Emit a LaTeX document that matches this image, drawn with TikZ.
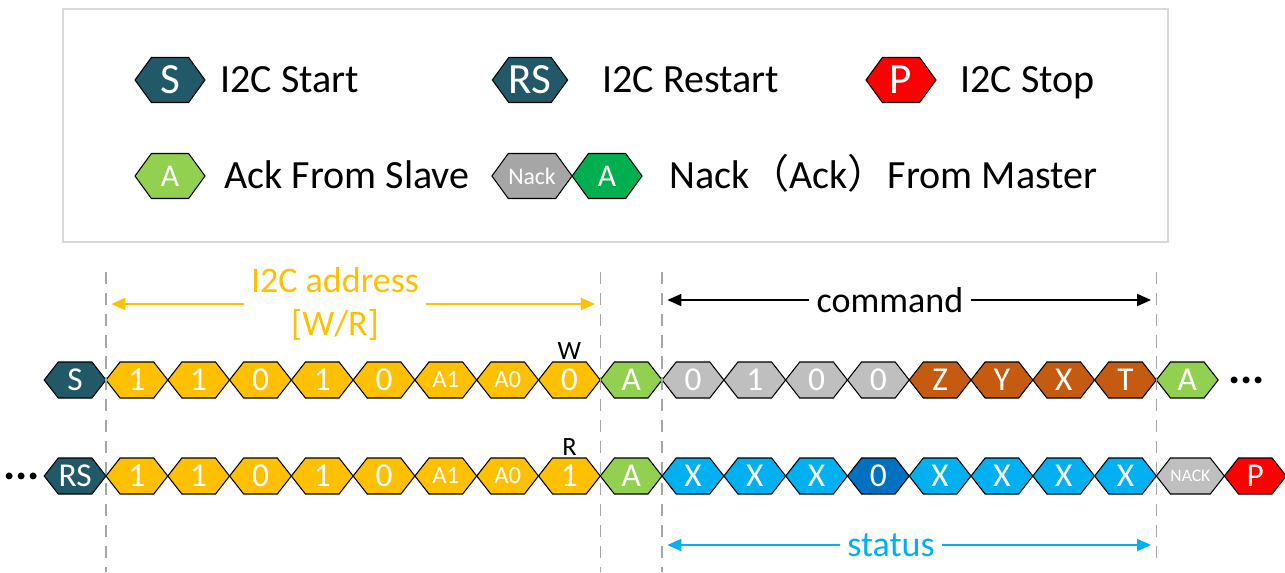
\documentclass[tikz,border=0pt]{standalone}
\usepackage{fontspec}
\setmainfont{Carlito}
\newfontfamily\cjk{Noto Sans CJK SC}
\usetikzlibrary{shapes.symbols, positioning, arrows.meta}
\definecolor{startblue}{RGB}{33,89,104}
\definecolor{addrgold}{RGB}{255,192,0}
\definecolor{ackgreen}{RGB}{146,208,80}
\definecolor{mastergreen}{RGB}{0,176,80}
\definecolor{cmdgray}{RGB}{191,191,191}
\definecolor{nackgray}{RGB}{166,166,166}
\definecolor{datared}{RGB}{197,90,17}
\definecolor{statblue}{RGB}{0,176,240}
\definecolor{zeroblue}{RGB}{0,112,192}
\definecolor{stopred}{RGB}{255,0,0}
\tikzset{
    bit/.style={signal, signal to=east and west, signal pointer angle=104, draw=black, line width=0.6pt,
        text=white, minimum width=1.236cm, minimum height=0.72cm, inner sep=0pt, outer sep=0pt,
        font=\fontsize{19}{19}\selectfont}, % one bit of the frame
    smallbit/.style={font=\fontsize{14}{14}\selectfont},
    tinybit/.style={font=\fontsize{10}{10}\selectfont},
    lhex/.style={signal, signal to=east and west, signal pointer angle=108, draw=black, line width=0.6pt,
        text=white, minimum width=1.4cm, minimum height=0.9cm, inner sep=0pt, outer sep=0pt,
        font=\fontsize{24.5}{24.5}\selectfont}, % legend symbol
    legtext/.style={anchor=base west, inner sep=0pt, font=\fontsize{22.8}{24}\selectfont},
    legendbox/.style={draw=black!15, line width=1.2pt},
    guide/.style={draw=black!35, dashed, line width=0.9pt, dash pattern=on 7pt off 5pt},
    span/.style={line width=1.1pt, -{Triangle[length=8pt,width=6.8pt]}, shorten >=3pt},
    spanlabel/.style={inner sep=4pt, font=\fontsize{20.5}{24}\selectfont, align=center},
    marklabel/.style={inner sep=1pt, font=\fontsize{15}{15}\selectfont},
    dots/.style={inner sep=0pt, font=\fontsize{26}{26}\bfseries},
}
\begin{document}
\begin{tikzpicture}[x=0.02cm, y=-0.02cm, node distance=0pt]
\useasboundingbox (0,0) rectangle (1285,572);

% legend
\draw[legendbox] (63,9) rectangle (1168,242);
\node[lhex, fill=startblue] (lstart) at (170,80) {S};
\node[legtext] (tstart) at (220,92) {I2C Start};
\node[lhex, fill=startblue] (lrestart) at (530,80) {RS};
\node[legtext] (trestart) at (602,92) {I2C Restart};
\node[lhex, fill=stopred] (lstop) at (901,80) {P};
\node[legtext] (tstop) at (960,92) {I2C Stop};
\node[lhex, fill=ackgreen, font=\fontsize{18}{18}\selectfont] (lack) at (170,176) {A};
\node[legtext] (tack) at (224,188) {Ack From Slave};
\node[lhex, fill=nackgray, font=\fontsize{13.5}{13.5}\selectfont] (lnack) at (532,176) {Nack};
\node[lhex, fill=mastergreen, font=\fontsize{18}{18}\selectfont, right=of lnack] (lmack) {A};
\node[legtext] (tmaster) at (669,188) {Nack{\cjk （}Ack{\cjk ）}From Master};

% write frame
\node[bit, fill=startblue] (wst) at (75.1,380) {S};
\node[bit, fill=addrgold, right=of wst] (wa1) {1};
\node[bit, fill=addrgold, right=of wa1] (wa2) {1};
\node[bit, fill=addrgold, right=of wa2] (wa3) {0};
\node[bit, fill=addrgold, right=of wa3] (wa4) {1};
\node[bit, fill=addrgold, right=of wa4] (wa5) {0};
\node[bit, smallbit, fill=addrgold, right=of wa5] (wa6) {A1};
\node[bit, smallbit, fill=addrgold, right=of wa6] (wa7) {A0};
\node[bit, fill=addrgold, right=of wa7] (wa8) {0};
\node[bit, fill=ackgreen, right=of wa8] (wack) {A};
\node[bit, fill=cmdgray, right=of wack] (wc1) {0};
\node[bit, fill=cmdgray, right=of wc1] (wc2) {1};
\node[bit, fill=cmdgray, right=of wc2] (wc3) {0};
\node[bit, fill=cmdgray, right=of wc3] (wc4) {0};
\node[bit, fill=datared, right=of wc4] (wc5) {Z};
\node[bit, fill=datared, right=of wc5] (wc6) {Y};
\node[bit, fill=datared, right=of wc6] (wc7) {X};
\node[bit, fill=datared, right=of wc7] (wc8) {T};
\node[bit, fill=ackgreen, right=of wc8] (wack2) {A};
\node[dots, right=0.2cm of wack2] (wmore) {...};
\node[marklabel, above=of wa8] (wflag) {W};

% read frame
\node[bit, fill=startblue] (rst) at (75.1,476) {RS};
\node[dots, left=0.08cm of rst] (rmore) {...};
\node[bit, fill=addrgold, right=of rst] (ra1) {1};
\node[bit, fill=addrgold, right=of ra1] (ra2) {1};
\node[bit, fill=addrgold, right=of ra2] (ra3) {0};
\node[bit, fill=addrgold, right=of ra3] (ra4) {1};
\node[bit, fill=addrgold, right=of ra4] (ra5) {0};
\node[bit, smallbit, fill=addrgold, right=of ra5] (ra6) {A1};
\node[bit, smallbit, fill=addrgold, right=of ra6] (ra7) {A0};
\node[bit, fill=addrgold, right=of ra7] (ra8) {1};
\node[bit, fill=ackgreen, right=of ra8] (rack) {A};
\node[bit, fill=statblue, right=of rack] (rs1) {X};
\node[bit, fill=statblue, right=of rs1] (rs2) {X};
\node[bit, fill=statblue, right=of rs2] (rs3) {X};
\node[bit, fill=zeroblue, right=of rs3] (rs4) {0};
\node[bit, fill=statblue, right=of rs4] (rs5) {X};
\node[bit, fill=statblue, right=of rs5] (rs6) {X};
\node[bit, fill=statblue, right=of rs6] (rs7) {X};
\node[bit, fill=statblue, right=of rs7] (rs8) {X};
\node[bit, tinybit, fill=cmdgray, right=of rs8] (rnack) {NACK};
\node[bit, fill=stopred, right=of rnack] (rstop) {P};
\node[marklabel, above=of ra8] (rflag) {R};

% guides
\coordinate (guidetop) at (0,272);
\coordinate (guidebot) at (0,572);
\coordinate (guideend) at (0,562);
\draw[guide] (wa1.west |- guidetop) -- (wa1.west |- guidebot);
\draw[guide] (wack.west |- guidetop) -- (wack.west |- guidebot);
\draw[guide] (wc1.west |- guidetop) -- (wc1.west |- guidebot);
\draw[guide] (wc8.east |- guidetop) -- (wc8.east |- guideend);

% spans
\node[spanlabel, text=addrgold] (addr) at (335,304) {I2C address\\{[W/R]}};
\draw[span, addrgold] (addr.west) -- (wa1.west |- addr.west);
\draw[span, addrgold] (addr.east) -- (wack.west |- addr.east);
\node[spanlabel] (cmd) at (890,300) {command};
\draw[span] (cmd.west) -- (wc1.west |- cmd.west);
\draw[span] (cmd.east) -- (wc8.east |- cmd.east);
\node[spanlabel, text=statblue] (stat) at (891,545) {status};
\draw[span, statblue] (stat.west) -- (rs1.west |- stat.west);
\draw[span, statblue] (stat.east) -- (rs8.east |- stat.east);
\end{tikzpicture}
\end{document}
